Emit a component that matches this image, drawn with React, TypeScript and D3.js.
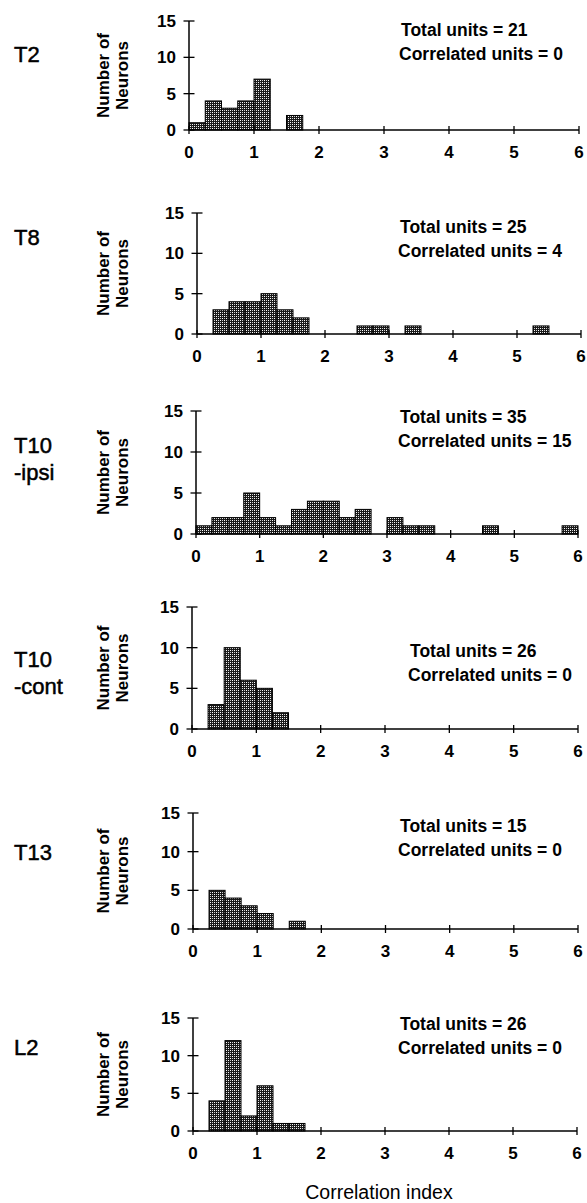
import * as d3 from 'd3'

// bins of width 0.25 on the correlation index, from 0 to 6
const binEdges = d3.range(0, 6, 0.25)
const xTicks = [0, 1, 2, 3, 4, 5, 6]
const yTicks = [0, 5, 10, 15]

const regions = ['T2', 'T8', 'T10\n-ipsi', 'T10\n-cont', 'T13', 'L2']
const totalUnits = [21, 25, 35, 26, 15, 26]
const correlatedUnits = [0, 4, 15, 0, 0, 0]

const countsT2 = [1, 4, 3, 4, 7, 0, 2, 0, 0, 0, 0, 0, 0, 0, 0, 0, 0, 0, 0, 0, 0, 0, 0, 0]
const countsT8 = [0, 3, 4, 4, 5, 3, 2, 0, 0, 0, 1, 1, 0, 1, 0, 0, 0, 0, 0, 0, 0, 1, 0, 0]
const countsT10ipsi = [1, 2, 2, 5, 2, 1, 3, 4, 4, 2, 3, 0, 2, 1, 1, 0, 0, 0, 1, 0, 0, 0, 0, 1]
const countsT10cont = [0, 3, 10, 6, 5, 2, 0, 0, 0, 0, 0, 0, 0, 0, 0, 0, 0, 0, 0, 0, 0, 0, 0, 0]
const countsT13 = [0, 5, 4, 3, 2, 0, 1, 0, 0, 0, 0, 0, 0, 0, 0, 0, 0, 0, 0, 0, 0, 0, 0, 0]
const countsL2 = [0, 4, 12, 2, 6, 1, 1, 0, 0, 0, 0, 0, 0, 0, 0, 0, 0, 0, 0, 0, 0, 0, 0, 0]
const allCounts = [countsT2, countsT8, countsT10ipsi, countsT10cont, countsT13, countsL2]

// where each scanned panel sits on the page
const panels = [
  { x0: 189, x1: 579, top: 21, bottom: 130, note: 36, tx: 401 },
  { x0: 197, x1: 581, top: 213, bottom: 334, note: 233, tx: 400 },
  { x0: 196, x1: 578, top: 411, bottom: 534, note: 423, tx: 400 },
  { x0: 192, x1: 578, top: 607, bottom: 729, note: 657, tx: 410 },
  { x0: 193, x1: 578, top: 813, bottom: 929, note: 832, tx: 400 },
  { x0: 193, x1: 577, top: 1018, bottom: 1131, note: 1030, tx: 400 },
]
const labelY = [62, 245, 453, 667, 860, 1055]

const font = 'Arial, "Liberation Sans", Helvetica, sans-serif'

function Panel({ i }: { i: number }) {
  const p = panels[i]
  const counts = allCounts[i]
  const x = d3.scaleLinear().domain([0, 6]).range([p.x0, p.x1])
  const y = d3.scaleLinear().domain([0, 15]).range([p.bottom, p.top])
  const lines = regions[i].split('\n')
  const midY = (p.top + p.bottom) / 2
  return (
    <g>
      {lines.map((l, k) => (
        <text key={k} x={14} y={labelY[i] + k * 27} fontSize={22} fontFamily={font}
          stroke="#000" strokeWidth={0.5}>{l}</text>
      ))}
      <text transform={`translate(${109},${midY}) rotate(-90)`} textAnchor="middle"
        fontSize={17} fontWeight="bold" fontFamily={font}>
        <tspan x={0} dy={0}>Number of</tspan>
        <tspan x={0} dy={19}>Neurons</tspan>
      </text>
      {binEdges.map((b, k) => counts[k] > 0 && (
        <rect key={k} x={x(b)} y={y(counts[k])} width={x(b + 0.25) - x(b)}
          height={y(0) - y(counts[k])} fill="url(#hatch)" stroke="#000" strokeWidth={1} />
      ))}
      <line x1={p.x0} x2={p.x0} y1={y(0)} y2={y(15)} stroke="#000" strokeWidth={1.5} />
      <line x1={p.x0} x2={p.x1} y1={y(0)} y2={y(0)} stroke="#000" strokeWidth={1.5} />
      {yTicks.map(t => (
        <g key={t}>
          <line x1={p.x0 - 5.5} x2={p.x0 + 5.5} y1={y(t)} y2={y(t)} stroke="#000" strokeWidth={1.3} />
          <text x={p.x0 - 13} y={y(t) + 6} textAnchor="end" fontSize={17} fontWeight="bold"
            fontFamily={font}>{t}</text>
        </g>
      ))}
      {xTicks.map(t => (
        <g key={t}>
          <line x1={x(t)} x2={x(t)} y1={y(0) - 4} y2={y(0) + 4} stroke="#000" strokeWidth={1.3} />
          <text x={x(t)} y={y(0) + 28} textAnchor="middle" fontSize={17} fontWeight="bold"
            fontFamily={font}>{t}</text>
        </g>
      ))}
      <text x={p.tx} y={p.note} fontSize={17.5} fontWeight="bold" fontFamily={font}>
        {`Total units = ${totalUnits[i]}`}
      </text>
      <text x={p.tx - 2} y={p.note + 24} fontSize={17.5} fontWeight="bold" fontFamily={font}>
        {`Correlated units = ${correlatedUnits[i]}`}
      </text>
    </g>
  )
}

export default function App() {
  return (
    <svg width={587} height={1203} style={{ position: 'absolute', left: 0, top: 0 }}>
      <defs>
        <pattern id="hatch" patternUnits="userSpaceOnUse" width={4} height={4}>
          <rect width={4} height={4} fill="#1a1a1a" />
          <rect x={0} y={0} width={1} height={1} fill="#fff" />
          <rect x={2} y={2} width={1} height={1} fill="#fff" />
          <rect x={2} y={0} width={1} height={1} fill="#ccc" />
          <rect x={0} y={2} width={1} height={1} fill="#ccc" />
        </pattern>
      </defs>
      <rect width={587} height={1203} fill="#fff" />
      {panels.map((_, i) => <Panel key={i} i={i} />)}
      <text x={379} y={1199} textAnchor="middle" fontSize={19.5} fontFamily={font}>
        Correlation index
      </text>
    </svg>
  )
}
